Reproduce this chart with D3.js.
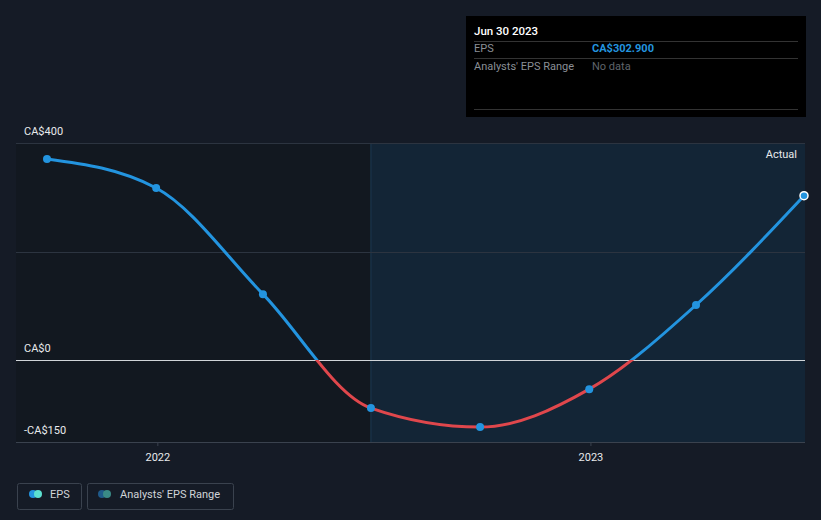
<!DOCTYPE html>
<html><head><meta charset="utf-8">
<script src="https://cdn.jsdelivr.net/npm/d3@7/dist/d3.min.js"></script>
<style>
body{margin:0;background:#151b26;}
svg{display:block;font-family:Roboto,"Open Sans",sans-serif;}
</style></head>
<body><svg id="c" width="821" height="520"></svg>
<script>
const dates = ["2021-09-30","2021-12-31","2022-03-31","2022-06-30","2022-09-30","2022-12-31","2023-03-31","2023-06-30"];
const eps = [370.5, 317, 121.5, -88.5, -123.5, -53.5, 101.5, 302.9];
const yTicks = [400, 0, -150];
const yTickLabels = ["CA$400", "CA$0", "-CA$150"];
const xTicks = ["2022-01-01", "2023-01-01"];
const xTickLabels = ["2022", "2023"];
const forecastStart = "2022-06-30";

const parse = d3.timeParse("%Y-%m-%d");
const data = dates.map((d,i)=>({date:parse(d), v:eps[i]}));
const svg = d3.select("#c");
const W=821,H=520;
const L=16,R=805,T=143,B=442;

const x = d3.scaleTime().domain([parse("2021-09-30"), parse("2023-06-30")]).range([47,804]);
const y = d3.scaleLinear().domain([-150,400]).range([441.5,143]);

// plot bg
svg.append("rect").attr("x",L).attr("y",T).attr("width",x(parse(forecastStart))-L).attr("height",B-T).attr("fill","#121820");
svg.append("rect").attr("x",x(parse(forecastStart))).attr("y",T).attr("width",R-x(parse(forecastStart))).attr("height",B-T).attr("fill","#132536");
svg.append("line").attr("x1",x(parse(forecastStart))).attr("x2",x(parse(forecastStart))).attr("y1",T).attr("y2",B).attr("stroke","#1d3a52").attr("stroke-width",1);

// gridlines
[400,200].forEach(v=>{
  svg.append("line").attr("x1",L).attr("x2",R).attr("y1",Math.round(y(v))+0.5).attr("y2",Math.round(y(v))+0.5).attr("stroke","#2c3440").attr("stroke-width",1);
});
svg.append("line").attr("x1",L).attr("x2",R).attr("y1",360.5).attr("y2",360.5).attr("stroke","#d0d4d8").attr("stroke-width",1);
svg.append("line").attr("x1",L).attr("x2",R).attr("y1",B+0.5).attr("y2",B+0.5).attr("stroke","#3a424e").attr("stroke-width",1);

// y labels
yTicks.forEach((v,i)=>{
  svg.append("text").attr("x",24).attr("y",y(v)-8).attr("fill","#e8eaec").attr("font-size",11).text(yTickLabels[i]);
});
// x axis
const xAxis = d3.axisBottom(x).tickValues(xTicks.map(parse)).tickFormat((d,i)=>xTickLabels[i]).tickSize(4);
const gx = svg.append("g").attr("transform",`translate(0,${B})`).call(xAxis);
gx.select(".domain").remove();
gx.selectAll("line").attr("stroke","#3a424e");
gx.selectAll("text").attr("fill","#e8eaec").attr("font-size",11).attr("dy","1.05em").attr("font-family","Roboto,sans-serif");

svg.append("text").attr("x",797).attr("y",158).attr("text-anchor","end").attr("fill","#e8eaec").attr("font-size",11).text("Actual");

// line with color split
const line = d3.line().x(d=>x(d.date)).y(d=>y(d.v)).curve(d3.curveMonotoneX);
const defs = svg.append("defs");
defs.append("clipPath").attr("id","above").append("rect").attr("x",0).attr("y",0).attr("width",W).attr("height",y(0));
defs.append("clipPath").attr("id","below").append("rect").attr("x",0).attr("y",y(0)).attr("width",W).attr("height",H);
svg.append("path").datum(data).attr("d",line).attr("fill","none").attr("stroke","#2394df").attr("stroke-width",3).attr("clip-path","url(#above)");
svg.append("path").datum(data).attr("d",line).attr("fill","none").attr("stroke","#e0474c").attr("stroke-width",3).attr("clip-path","url(#below)");

svg.selectAll("circle.pt").data(data.slice(0,-1)).enter().append("circle").attr("class","pt")
  .attr("cx",d=>x(d.date)).attr("cy",d=>y(d.v)).attr("r",4).attr("fill","#2394df");
const last = data[data.length-1];
svg.append("circle").attr("cx",x(last.date)).attr("cy",y(last.v)).attr("r",4).attr("fill","#2394df").attr("stroke","#ffffff").attr("stroke-width",1.5);

// tooltip
const tt = svg.append("g");
tt.append("rect").attr("x",466).attr("y",16).attr("width",340).attr("height",101).attr("fill","#000");
tt.append("text").attr("x",474).attr("y",35).attr("fill","#fff").attr("font-size",11.5).attr("font-weight",500).text("Jun 30 2023");
[41,58,109].forEach(yy=>tt.append("line").attr("x1",474).attr("x2",798).attr("y1",yy+0.5).attr("y2",yy+0.5).attr("stroke","#333"));
tt.append("text").attr("x",474).attr("y",52).attr("fill","#8a8f96").attr("font-size",11).text("EPS");
tt.append("text").attr("x",592).attr("y",52).attr("fill","#2394df").attr("font-size",11).attr("font-weight",700).text("CA$302.900");
tt.append("text").attr("x",474).attr("y",70).attr("fill","#8a8f96").attr("font-size",11).text("Analysts' EPS Range");
tt.append("text").attr("x",592).attr("y",70).attr("fill","#5f646b").attr("font-size",11).text("No data");

// legend
const lg = svg.append("g");
lg.append("rect").attr("x",17.5).attr("y",483.5).attr("width",64).attr("height",26).attr("rx",2).attr("fill","none").attr("stroke","#3a424e");
lg.append("circle").attr("cx",33).attr("cy",494).attr("r",4).attr("fill","#2394df");
lg.append("circle").attr("cx",38).attr("cy",494).attr("r",4).attr("fill","#5ce0d0");
lg.append("text").attr("x",50).attr("y",498).attr("fill","#d0d4d8").attr("font-size",11).text("EPS");
lg.append("rect").attr("x",87.5).attr("y",483.5).attr("width",146).attr("height",26).attr("rx",2).attr("fill","none").attr("stroke","#3a424e");
lg.append("circle").attr("cx",102).attr("cy",494).attr("r",4).attr("fill","#1f5a8a");
lg.append("circle").attr("cx",107).attr("cy",494).attr("r",4).attr("fill","#3a8a86");
lg.append("text").attr("x",120).attr("y",498).attr("fill","#d0d4d8").attr("font-size",11).text("Analysts' EPS Range");
</script></body></html>
